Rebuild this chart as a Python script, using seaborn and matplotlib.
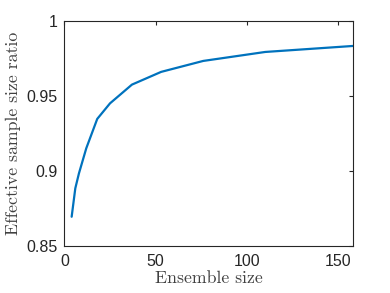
import numpy as np
import pandas as pd
import matplotlib
matplotlib.use("Agg")
import matplotlib.pyplot as plt
import seaborn as sns

# values
ensemble_size = [4, 6, 8, 12, 18, 25, 37, 53, 76, 110, 158]
ess_ratio = [0.8696, 0.8886, 0.8986, 0.9153, 0.9349, 0.9453, 0.9578, 0.9663, 0.9736, 0.9796, 0.9836]
x_ticks = [0, 50, 100, 150]
y_ticks = [0.85, 0.9, 0.95, 1]
y_tick_labels = ["0.85", "0.9", "0.95", "1"]

sns.set_theme(style="white")
plt.rcParams["font.family"] = ["Liberation Sans", "DejaVu Sans"]
plt.rcParams["axes.unicode_minus"] = False

df = pd.DataFrame({"Ensemble size": ensemble_size, "ratio": ess_ratio})

fig = plt.figure(figsize=(3.9, 2.93), dpi=100)
ax = fig.add_axes([0.165, 0.160, 0.740, 0.767])

sns.lineplot(data=df, x="Ensemble size", y="ratio", ax=ax,
             color="#0072BD", linewidth=1.6)

ax.set_xlim(0, 158)
ax.set_ylim(0.85, 1)
ax.set_xticks(x_ticks)
ax.set_yticks(y_ticks)
ax.set_yticklabels(y_tick_labels)

edge = "#262626"
for s in ax.spines.values():
    s.set_color(edge)
    s.set_linewidth(0.8)
ax.tick_params(direction="in", length=3, width=0.8, colors=edge,
               labelsize=11.5, top=True, right=True)
ax.tick_params(axis="x", pad=6)
ax.tick_params(axis="y", pad=5)

label_col = "#404040"
ax.set_xlabel("Ensemble size", fontfamily="cmr10", fontsize=12.8, color=label_col, labelpad=1)
ax.set_ylabel("Effective sample size ratio", fontfamily="cmr10", fontsize=12.8, color=label_col, labelpad=4)

fig.savefig("out.png", dpi=100)
